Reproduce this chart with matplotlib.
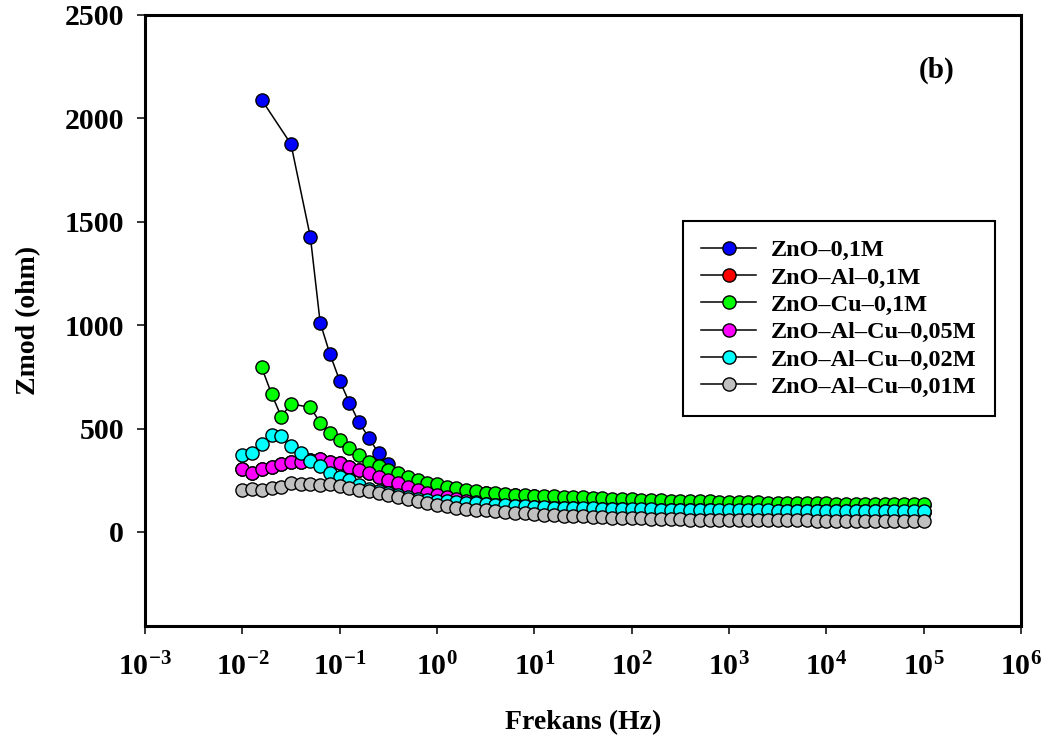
import numpy as np
import matplotlib
matplotlib.use('Agg')
import matplotlib.pyplot as plt
from matplotlib.ticker import NullLocator, FixedLocator, FixedFormatter

plt.rcParams['font.family'] = ['Liberation Serif', 'DejaVu Serif']
plt.rcParams['font.weight'] = 'bold'
plt.rcParams['mathtext.fontset'] = 'custom'
plt.rcParams['mathtext.rm'] = 'Liberation Serif:bold'
plt.rcParams['mathtext.it'] = 'Liberation Serif:bold'
plt.rcParams['mathtext.bf'] = 'Liberation Serif:bold'

# frequency sweep: 10 points per decade, 0.01 Hz .. 100 kHz
mantissa = [1.0, 1.26, 1.58, 2.0, 2.51, 3.16, 3.98, 5.01, 6.31, 7.94]
freq = [m * 10.0 ** d for d in range(-2, 5) for m in mantissa] + [1e5]
nan = np.nan

zno = [nan, nan, 2090, nan, nan, 1876, nan, 1425, 1012, 861,
       732, 625, 530, 455, 380, 328, 282, 262, 246, 233,
       224, 214, 206, 199, 193, 187, 183, 180, 177, 174,
       172, 170, 168, 166, 164, 162, 160, 158, 156, 154,
       152, 150, 149, 148, 147, 146, 145, 144, 143, 142,
       141, 140, 139, 138, 137, 136, 135, 134, 134, 133,
       133, 132, 132, 131, 131, 130, 130, 129, 129, 128, 128]
zno_al = [304, 284, 302, 316, 329, 336, 340, 348, 352, 340,
          332, 316, 300, 287, 267, 251, 235, 219, 203, 190,
          179, 168, 158, 150, 143, 136, 130, 127, 124, 122,
          120, 118, 116, 115, 114, 113, 112, 111, 110, 109,
          108, 107, 107, 106, 106, 105, 105, 104, 104, 103,
          103, 103, 102, 102, 102, 101, 101, 101, 101, 100,
          100, 100, 100, 99, 99, 99, 99, 98, 98, 98, 98]
zno_cu = [nan, nan, 796, 667, 558, 619, nan, 603, 528, 480,
          445, 405, 372, 340, 321, 300, 284, 267, 251, 238,
          230, 219, 211, 203, 197, 190, 187, 184, 181, 178,
          176, 174, 172, 171, 169, 167, 165, 163, 161, 159,
          157, 156, 155, 153, 152, 151, 150, 149, 148, 147,
          146, 145, 144, 143, 142, 141, 140, 139, 139, 138,
          138, 137, 137, 136, 136, 135, 135, 134, 134, 133, 133]
zno_alcu_005 = [304, 284, 302, 316, 329, 336, 340, 348, 352, 340,
                332, 316, 300, 287, 267, 251, 235, 219, 203, 190,
                179, 168, 158, 150, 143, 136, 130, 127, 124, 122,
                120, 118, 116, 115, 114, 113, 112, 111, 110, 109,
                108, 107, 107, 106, 106, 105, 105, 104, 104, 103,
                103, 103, 102, 102, 102, 101, 101, 101, 101, 100,
                100, 100, 100, 99, 99, 99, 99, 98, 98, 98, 98]
zno_alcu_002 = [372, 380, 425, 469, 464, 417, 380, 345, 318, 284,
                266, 251, 225, 208, 196, 186, 177, 168, 161, 156,
                152, 148, 145, 141, 138, 135, 132, 129, 126, 124,
                122, 120, 118, 117, 116, 115, 114, 113, 112, 111,
                110, 109, 109, 108, 108, 107, 107, 106, 106, 105,
                105, 105, 104, 104, 104, 103, 103, 103, 103, 102,
                102, 102, 102, 101, 101, 101, 101, 100, 100, 100, 100]
zno_alcu_001 = [203, 208, 203, 211, 216, 235, 232, 232, 229, 231,
                222, 213, 205, 196, 187, 177, 168, 158, 148, 140,
                132, 124, 116, 112, 108, 104, 100, 96, 93, 90,
                87, 84, 81, 79, 77, 75, 73, 71, 69, 67,
                66, 65, 64, 63, 62, 61, 60, 60, 59, 59,
                58, 58, 57, 57, 57, 56, 56, 56, 56, 55,
                55, 55, 54, 54, 54, 54, 53, 53, 53, 53, 52]

series = [
    ('ZnO–0,1M', '#0000ff', zno),
    ('ZnO–Al–0,1M', '#ff0000', zno_al),
    ('ZnO–Cu–0,1M', '#00ff00', zno_cu),
    ('ZnO–Al–Cu–0,05M', '#ff00ff', zno_alcu_005),
    ('ZnO–Al–Cu–0,02M', '#00ffff', zno_alcu_002),
    ('ZnO–Al–Cu–0,01M', '#c0c0c0', zno_alcu_001),
]

fig = plt.figure(figsize=(10.49, 7.42), dpi=100)
ax = fig.add_axes([0.1382, 0.1563, 0.8351, 0.8235])

f = np.array(freq)
for label, color, vals in series:
    y = np.array(vals, dtype=float)
    ok = ~np.isnan(y)
    ax.plot(f[ok], y[ok], '-o', color='black', lw=1.1, ms=9.5,
            mfc=color, mec='black', mew=1.0, label=label)

ax.set_xscale('log')
ax.set_xlim(1e-3, 1e6)
ax.set_ylim(-455, 2500)
xt = [1e-3, 1e-2, 1e-1, 1e0, 1e1, 1e2, 1e3, 1e4, 1e5, 1e6]
ax.xaxis.set_major_locator(FixedLocator(xt))
ax.xaxis.set_major_formatter(FixedFormatter(
    [r'$10^{%d}$' % e for e in range(-3, 7)]))
ax.xaxis.set_minor_locator(NullLocator())
ax.set_yticks([0, 500, 1000, 1500, 2000, 2500])
ax.tick_params(direction='out', length=6, width=1.1, labelsize=21.5,
               top=False, right=False)
ax.tick_params(axis='x', pad=13)
ax.tick_params(axis='y', pad=9)
for s in ax.spines.values():
    s.set_linewidth(2.2)

ax.set_xlabel('Frekans (Hz)', fontsize=20, fontweight='bold', labelpad=21)
ax.set_ylabel('Zmod (ohm)', fontsize=20, fontweight='bold', labelpad=17)
ax.text(0.904, 0.91, '(b)', transform=ax.transAxes, fontsize=21,
        fontweight='bold', ha='center', va='center')

leg = ax.legend(loc='upper left', bbox_to_anchor=(0.614, 0.663),
                fontsize=17.5, frameon=True, fancybox=False, framealpha=1,
                edgecolor='black', numpoints=1, handlelength=2.26,
                labelspacing=0.22, borderpad=0.75, handletextpad=0.62,
                borderaxespad=0)
leg.get_frame().set_linewidth(1.5)

fig.savefig('out.png', dpi=100)
